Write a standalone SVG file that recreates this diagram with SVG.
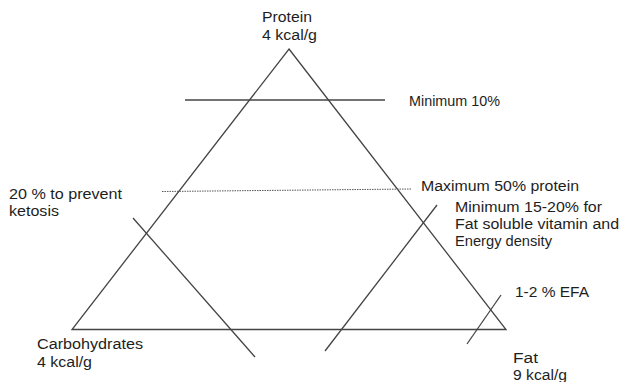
<svg xmlns="http://www.w3.org/2000/svg" width="621" height="382" viewBox="0 0 621 382">
<style>
text{font-family:"Liberation Sans",Arial,sans-serif;font-size:15.5px;fill:#1e1e1e}
.ln{stroke:#444;stroke-width:1.3;fill:none}
.dot{stroke:#555;stroke-width:1;stroke-dasharray:1.5 1;fill:none}
</style>
<rect width="621" height="382" fill="#fff"/>
<g id="triangle">
<polygon class="ln" points="289,49 506,329.5 72,329.5"/>
</g>
<g id="connectors">
<line class="ln" x1="185" y1="100" x2="385" y2="100"/>
<line class="dot" x1="162" y1="191.5" x2="412" y2="189"/>
<line class="ln" x1="133" y1="218" x2="255" y2="357"/>
<line class="ln" x1="437" y1="205" x2="325" y2="351"/>
<line class="ln" x1="501" y1="295" x2="467" y2="344"/>
</g>
<g id="protein"><text x="262" y="22" textLength="50" lengthAdjust="spacingAndGlyphs">Protein</text><text x="262" y="40" textLength="55" lengthAdjust="spacingAndGlyphs">4 kcal/g</text></g>
<g id="min10"><text x="409" y="106" textLength="91" lengthAdjust="spacingAndGlyphs">Minimum 10%</text></g>
<g id="max50"><text x="421" y="191" textLength="158" lengthAdjust="spacingAndGlyphs">Maximum 50% protein</text></g>
<g id="fatmin"><text x="455" y="212" textLength="147" lengthAdjust="spacingAndGlyphs">Minimum 15-20% for</text><text x="455" y="229" textLength="164" lengthAdjust="spacingAndGlyphs">Fat soluble vitamin and</text><text x="455" y="246" textLength="97" lengthAdjust="spacingAndGlyphs">Energy density</text></g>
<g id="ketosis"><text x="9" y="199" textLength="113" lengthAdjust="spacingAndGlyphs">20 % to prevent</text><text x="9" y="216" textLength="50" lengthAdjust="spacingAndGlyphs">ketosis</text></g>
<g id="efa"><text x="515" y="297" textLength="74" lengthAdjust="spacingAndGlyphs">1-2 % EFA</text></g>
<g id="carb"><text x="37" y="349" textLength="106" lengthAdjust="spacingAndGlyphs">Carbohydrates</text><text x="37" y="367" textLength="55" lengthAdjust="spacingAndGlyphs">4 kcal/g</text></g>
<g id="fat"><text x="513" y="363" textLength="25" lengthAdjust="spacingAndGlyphs">Fat</text><text x="513" y="380" textLength="54" lengthAdjust="spacingAndGlyphs">9 kcal/g</text></g>
</svg>
